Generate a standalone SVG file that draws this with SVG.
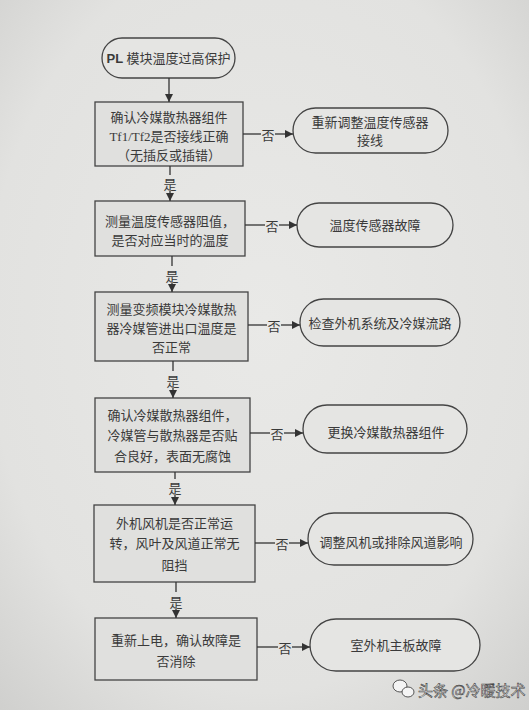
<svg xmlns="http://www.w3.org/2000/svg" width="529" height="710" viewBox="0 0 529 710">
<defs>
<radialGradient id="bg" cx="0.5" cy="0.45" r="0.75">
<stop offset="0" stop-color="#e9e9e7"/>
<stop offset="0.7" stop-color="#e2e2e0"/>
<stop offset="1" stop-color="#cfcfcd"/>
</radialGradient>
<marker id="ah" viewBox="0 0 10 10" refX="10" refY="5" markerWidth="9" markerHeight="8" markerUnits="userSpaceOnUse" orient="auto">
<path d="M0,0 L10,5 L0,10 z" fill="#333"/>
</marker>
<style>
.box{fill:#e0e0de;stroke:#444;stroke-width:1.3}
.term{fill:#e5e5e3;stroke:#444;stroke-width:1.3}
.t{font-family:"Liberation Serif","Noto Sans CJK SC",serif;font-size:13px;fill:#3a3a3a;text-anchor:middle;dominant-baseline:central}
.lbl{font-family:"Noto Sans CJK SC",sans-serif;font-size:13px;fill:#3a3a3a;text-anchor:middle;dominant-baseline:central}
.c{stroke:#333;stroke-width:1.3;fill:none}
</style>
</defs>
<rect width="529" height="710" fill="url(#bg)"/>

<g id="start">
<rect x="102" y="38" width="133" height="40" rx="20" class="term"/>
<text x="168.5" y="58" class="t"><tspan font-weight="bold" font-family="Liberation Sans, sans-serif">PL</tspan> 模块温度过高保护</text>
</g>

<g id="box1">
<rect x="95" y="102" width="148" height="64" class="box"/>
<text x="169" y="117" class="t">确认冷媒散热器组件</text>
<text x="169" y="136" class="t">Tf1/Tf2是否接线正确</text>
<text x="169" y="155" class="t">（无插反或插错）</text>
</g>
<g id="term1">
<rect x="293" y="108" width="155" height="45" rx="22.5" class="term"/>
<text x="370" y="122" class="t">重新调整温度传感器</text>
<text x="370" y="140" class="t">接线</text>
</g>

<g id="box2">
<rect x="95" y="201" width="150" height="55" class="box"/>
<text x="170" y="221" class="t">测量温度传感器阻值，</text>
<text x="170" y="240" class="t">是否对应当时的温度</text>
</g>
<g id="term2">
<rect x="297" y="203" width="156" height="44" rx="22" class="term"/>
<text x="375" y="225" class="t">温度传感器故障</text>
</g>

<g id="box3">
<rect x="95" y="292" width="153" height="69" class="box"/>
<text x="171.5" y="309" class="t">测量变频模块冷媒散热</text>
<text x="171.5" y="328" class="t">器冷媒管进出口温度是</text>
<text x="171.5" y="347" class="t">否正常</text>
</g>
<g id="term3">
<rect x="300" y="299" width="160" height="47" rx="23.5" class="term"/>
<text x="380" y="323" class="t">检查外机系统及冷媒流路</text>
</g>

<g id="box4">
<rect x="95" y="398" width="155" height="74" class="box"/>
<text x="172.5" y="415" class="t">确认冷媒散热器组件，</text>
<text x="172.5" y="435" class="t">冷媒管与散热器是否贴</text>
<text x="172.5" y="456" class="t">合良好，表面无腐蚀</text>
</g>
<g id="term4">
<rect x="303" y="405" width="164" height="48" rx="24" class="term"/>
<text x="386" y="432" class="t">更换冷媒散热器组件</text>
</g>

<g id="box5">
<rect x="94" y="505" width="161" height="77" class="box"/>
<text x="174.5" y="523" class="t">外机风机是否正常运</text>
<text x="174.5" y="543" class="t">转，风叶及风道正常无</text>
<text x="174.5" y="565" class="t">阻挡</text>
</g>
<g id="term5">
<rect x="308" y="513" width="165" height="52" rx="26" class="term"/>
<text x="391" y="542" class="t">调整风机或排除风道影响</text>
</g>

<g id="box6">
<rect x="95" y="618" width="162" height="62" class="box"/>
<text x="176" y="640" class="t">重新上电，确认故障是</text>
<text x="176" y="661" class="t">否消除</text>
</g>
<g id="term6">
<rect x="310" y="619" width="170" height="52" rx="26" class="term"/>
<text x="396" y="645" class="t">室外机主板故障</text>
</g>

<g id="connectors">
<line x1="169" y1="78" x2="169" y2="102" class="c" marker-end="url(#ah)"/>

<line x1="170" y1="166" x2="170" y2="175" class="c"/>
<text x="170" y="183" class="lbl">是</text>
<line x1="170" y1="191" x2="170" y2="201" class="c" marker-end="url(#ah)"/>

<line x1="172" y1="256" x2="172" y2="266" class="c"/>
<text x="172" y="275" class="lbl">是</text>
<line x1="172" y1="283" x2="172" y2="292" class="c" marker-end="url(#ah)"/>

<line x1="173" y1="361" x2="173" y2="371" class="c"/>
<text x="173" y="380" class="lbl">是</text>
<line x1="173" y1="388" x2="173" y2="398" class="c" marker-end="url(#ah)"/>

<line x1="175" y1="472" x2="175" y2="479" class="c"/>
<text x="175" y="487" class="lbl">是</text>
<line x1="175" y1="495" x2="175" y2="505" class="c" marker-end="url(#ah)"/>

<line x1="176" y1="582" x2="176" y2="592" class="c"/>
<text x="176" y="601" class="lbl">是</text>
<line x1="176" y1="609" x2="176" y2="618" class="c" marker-end="url(#ah)"/>

<line x1="243" y1="134" x2="261" y2="134" class="c"/>
<text x="268" y="134" class="lbl">否</text>
<line x1="275" y1="134" x2="293" y2="134" class="c" marker-end="url(#ah)"/>

<line x1="245" y1="225" x2="265" y2="225" class="c"/>
<text x="272" y="225" class="lbl">否</text>
<line x1="279" y1="225" x2="297" y2="225" class="c" marker-end="url(#ah)"/>

<line x1="248" y1="325" x2="267" y2="325" class="c"/>
<text x="274" y="325" class="lbl">否</text>
<line x1="281" y1="325" x2="300" y2="325" class="c" marker-end="url(#ah)"/>

<line x1="250" y1="433" x2="270" y2="433" class="c"/>
<text x="277" y="433" class="lbl">否</text>
<line x1="284" y1="433" x2="303" y2="433" class="c" marker-end="url(#ah)"/>

<line x1="255" y1="543" x2="275" y2="543" class="c"/>
<text x="282" y="543" class="lbl">否</text>
<line x1="289" y1="543" x2="308" y2="543" class="c" marker-end="url(#ah)"/>

<line x1="257" y1="647" x2="278" y2="647" class="c"/>
<text x="285" y="647" class="lbl">否</text>
<line x1="292" y1="647" x2="310" y2="647" class="c" marker-end="url(#ah)"/>
</g>

<g id="watermark">
<ellipse cx="400" cy="686" rx="7" ry="6" fill="#f4f4f4" stroke="#555" stroke-width="1"/>
<ellipse cx="408" cy="692" rx="6" ry="5" fill="#f4f4f4" stroke="#555" stroke-width="1"/>
<text x="418" y="689" font-family="Noto Sans CJK SC, sans-serif" font-size="15" fill="#f6f6f6" stroke="#444" stroke-width="0.6" dominant-baseline="central">头条 @冷暖技术</text>
</g>
</svg>
